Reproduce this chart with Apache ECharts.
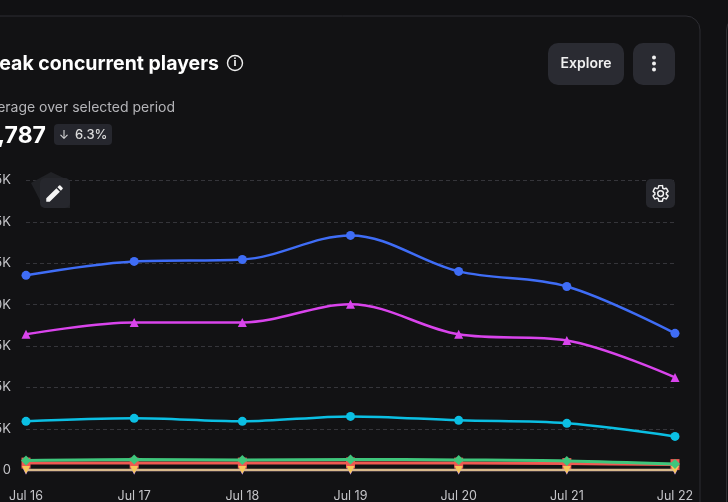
<!DOCTYPE html>
<html><head><meta charset="utf-8">
<style>html,body{margin:0;padding:0;background:#111113}#c{width:728px;height:502px}</style>
<script src="https://cdn.jsdelivr.net/npm/echarts@6/dist/echarts.min.js"></script>
</head><body><div id="c"></div>
<script>
const categories=['Jul 16','Jul 17','Jul 18','Jul 19','Jul 20','Jul 21','Jul 22'];
const blue=[11770,12610,12730,14180,12010,11100,8270];
const magenta=[8210,8930,8930,10020,8210,7840,5610];
const cyan=[2960,3140,2960,3260,3020,2840,2050];
const green=[600,660,630,660,630,570,380];
const red=[440,440,440,450,440,410,350];
const yellow=[25,25,25,25,25,25,25];
const purple=[10,10,10,10,10,10,10];
const yTicks={min:0,max:17500,step:2500};
const FONT='Inter, "Open Sans", sans-serif';
function line(name,data,color,symbol,size,z,lineColor,width){
  return {name,type:'line',data,smooth:0.35,z,symbol,symbolSize:size,showSymbol:true,
    lineStyle:{color:lineColor||color,width:width||2.5},itemStyle:{color}};
}
const gear='M19.14 12.94c.04-.3.06-.61.06-.94s-.02-.64-.07-.94l2.03-1.58a.49.49 0 0 0 .12-.61l-1.92-3.32a.49.49 0 0 0-.59-.22l-2.39.96a7 7 0 0 0-1.62-.94l-.36-2.54A.48.48 0 0 0 13.92 2h-3.84a.48.48 0 0 0-.47.41l-.36 2.54a7.3 7.3 0 0 0-1.62.94l-2.39-.96a.49.49 0 0 0-.59.22L2.73 8.87a.48.48 0 0 0 .12.61l2.03 1.58c-.05.3-.08.63-.08.94s.02.64.07.94l-2.03 1.58a.49.49 0 0 0-.12.61l1.92 3.32c.12.22.37.29.59.22l2.39-.96c.5.38 1.03.7 1.62.94l.36 2.54c.05.24.24.41.48.41h3.84c.24 0 .44-.17.47-.41l.36-2.54a7 7 0 0 0 1.62-.94l2.39.96c.22.08.47 0 .59-.22l1.92-3.32a.48.48 0 0 0-.12-.61zM12 15.6a3.6 3.6 0 1 1 0-7.2 3.6 3.6 0 0 1 0 7.2z';
const pencil='M3 17.25V21h3.75L17.81 9.94l-3.75-3.75zM20.71 7.04a1 1 0 0 0 0-1.41l-2.34-2.34a1 1 0 0 0-1.41 0l-1.83 1.83 3.75 3.75z';
echarts.graphic.registerShape('gearIcon',echarts.graphic.extendPath(gear,{}));
echarts.graphic.registerShape('pencilIcon',echarts.graphic.extendPath(pencil,{}));
const graphic=[
 {type:'rect',z:-10,shape:{x:-40,y:16,width:740,height:600,r:14},style:{fill:'#121214',stroke:'#2d2d32',lineWidth:1}},
 {type:'rect',z:-10,shape:{x:726.5,y:16,width:60,height:600,r:14},style:{fill:'#121214',stroke:'#2d2d32',lineWidth:1}},
 {type:'text',x:219,y:64,style:{text:'Peak concurrent players',font:'700 19.5px '+FONT,fill:'#fff',textAlign:'right',textVerticalAlign:'middle'}},
 {type:'circle',shape:{cx:235,cy:63,r:7.5},style:{fill:'none',stroke:'#f0f0f0',lineWidth:1.4}},
 {type:'text',x:235,y:63,style:{text:'i',font:'700 11px '+FONT,fill:'#f0f0f0',textAlign:'center',textVerticalAlign:'middle'}},
 {type:'text',x:175,y:108,style:{text:'Average over selected period',font:'400 14px '+FONT,fill:'#b4b4b8',textAlign:'right',textVerticalAlign:'middle'}},
 {type:'text',x:46,y:136,style:{text:'11,787',font:'700 23px '+FONT,fill:'#fff',textAlign:'right',textVerticalAlign:'middle'}},
 {type:'rect',shape:{x:54,y:124,width:58,height:21,r:4},style:{fill:'#26272e'}},
 {type:'text',x:64,y:135,style:{text:'↓',font:'400 12px '+FONT,fill:'#dcdcdc',textAlign:'center',textVerticalAlign:'middle'}},
 {type:'text',x:75,y:135,style:{text:'6.3%',font:'500 13px '+FONT,fill:'#dcdcdc',textAlign:'left',textVerticalAlign:'middle'}},
 {type:'rect',shape:{x:548,y:43,width:76,height:42,r:10},style:{fill:'#2a2b32'}},
 {type:'text',x:586,y:64,style:{text:'Explore',font:'600 14px '+FONT,fill:'#f0f0f0',textAlign:'center',textVerticalAlign:'middle'}},
 {type:'rect',shape:{x:633,y:43,width:42,height:42,r:10},style:{fill:'#2a2b32'}},
 {type:'circle',shape:{cx:654,cy:57.5,r:2},style:{fill:'#f0f0f0'}},
 {type:'circle',shape:{cx:654,cy:63.5,r:2},style:{fill:'#f0f0f0'}},
 {type:'circle',shape:{cx:654,cy:69.5,r:2},style:{fill:'#f0f0f0'}},
 {type:'polygon',z:20,shape:{points:[[31,183],[51,172],[70,181],[70,208],[44,208]]},style:{fill:'#212226'}},
 {type:'rect',z:20,shape:{x:40,y:178,width:30,height:30,r:5},style:{fill:'#26272d'}},
 {type:'pencilIcon',z:21,x:43.5,y:182.5,scaleX:0.92,scaleY:0.92,style:{fill:'#f4f4f4'}},
 {type:'rect',z:20,shape:{x:646,y:179,width:29,height:29,r:5},style:{fill:'#26272d'}},
 {type:'gearIcon',z:21,x:651,y:184,scaleX:0.8,scaleY:0.8,style:{fill:'none',stroke:'#f4f4f4',lineWidth:1.8}}
];
const chart=echarts.init(document.getElementById('c'),null,{renderer:'canvas'});
chart.setOption({
 animation:false,backgroundColor:'#111113',graphic,
 grid:{left:26,right:53,top:180.4,bottom:31.6,containLabel:false,outerBoundsMode:'none'},
 xAxis:{type:'category',data:categories,boundaryGap:false,
  axisLine:{show:false},axisTick:{show:false},
  axisLabel:{color:'#c4c4c8',fontSize:12.5,fontFamily:FONT,margin:19,interval:0,showMaxLabel:true,showMinLabel:true,hideOverlap:false}},
 yAxis:{type:'value',min:yTicks.min,max:yTicks.max,interval:yTicks.step,
  axisLine:{show:false},axisTick:{show:false},
  axisLabel:{color:'#c4c4c8',fontSize:13,fontFamily:FONT,margin:15,padding:[2,0,0,0],
   formatter:v=>v===0?'0':(v/1000)+'K'},
  splitLine:{lineStyle:{color:'#35353a',type:[4,3],width:1}}},
 series:[
  line('Purple',purple,'#a77bf0','triangle',9,1,null,2),
  line('Red',red,'#ef5a52','rect',[9,11],2,null,3),
  line('Yellow',yellow,'#f7c75a','triangle',8,3,'#d8b98c',2.5),
  line('Green',green,'#3fc67c','diamond',10,5,null,3),
  line('Cyan',cyan,'#0bbfe3','circle',9,6),
  line('Magenta',magenta,'#d944ec','triangle',9,7),
  line('Blue',blue,'#3f6df6','circle',9,8)
 ].map(s=>{ if(s.name==='Purple'||s.name==='Yellow'){s.symbolRotate=180;} return s; })
});
</script></body></html>
